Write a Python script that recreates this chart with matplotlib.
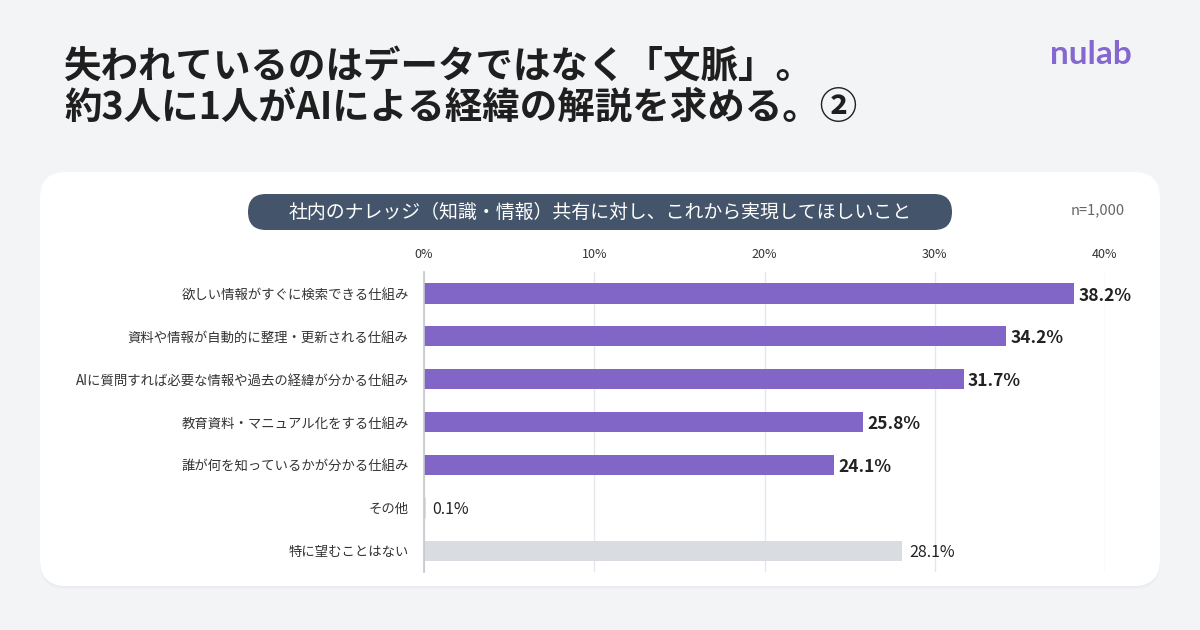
import matplotlib
matplotlib.use("Agg")
import matplotlib.pyplot as plt
from matplotlib.patches import FancyBboxPatch

plt.rcParams['font.family'] = ['Noto Sans CJK JP', 'DejaVu Sans']

title_lines = ["失われているのはデータではなく「文脈」。", "約3人に1人がAIによる経緯の解説を求める。②"]
chart_title = "社内のナレッジ（知識・情報）共有に対し、これから実現してほしいこと"
sample_note = "n=1,000"
categories = [
    "欲しい情報がすぐに検索できる仕組み",
    "資料や情報が自動的に整理・更新される仕組み",
    "AIに質問すれば必要な情報や過去の経緯が分かる仕組み",
    "教育資料・マニュアル化をする仕組み",
    "誰が何を知っているかが分かる仕組み",
    "その他",
    "特に望むことはない",
]
values = [38.2, 34.2, 31.7, 25.8, 24.1, 0.1, 28.1]
highlight = [True, True, True, True, True, False, False]
xticks = [0, 10, 20, 30, 40]
xtick_labels = ["0%", "10%", "20%", "30%", "40%"]

W, H = 1200, 630
fig = plt.figure(figsize=(W / 100, H / 100), dpi=100)
fig.patch.set_facecolor('#f3f4f6')

bg = fig.add_axes([0, 0, 1, 1])
bg.set_xlim(0, W)
bg.set_ylim(H, 0)
bg.axis('off')

# card shadow + card
for off, col in [(3, '#eef0f2'), (1.5, '#e9ebee')]:
    bg.add_patch(FancyBboxPatch((40, 172 + off), 1120, 414, boxstyle="round,pad=0,rounding_size=26",
                                fc=col, ec='none', zorder=0))
bg.add_patch(FancyBboxPatch((40, 172), 1120, 414, boxstyle="round,pad=0,rounding_size=26",
                            fc='white', ec='none', zorder=1))
# pill
bg.add_patch(FancyBboxPatch((248, 194), 704, 36, boxstyle="round,pad=0,rounding_size=18",
                            fc='#44546a', ec='none', zorder=2))
bg.text(600, 212, chart_title, color='white', fontsize=13.6, ha='center', va='center', zorder=3)
bg.text(1125, 210, sample_note, color='#666666', fontsize=10.5, ha='right', va='center', zorder=3)

# titles
bg.text(64, 66, title_lines[0], fontsize=27, fontweight='bold', color='#1f1f1f', ha='left', va='center')
bg.text(64, 107, title_lines[1], fontsize=27, fontweight='bold', color='#1f1f1f', ha='left', va='center')

# logo
bg.text(1091, 54, "nulab", fontsize=24, fontweight='bold', color='#8468cf', ha='center', va='center',
        family=['Lato', 'DejaVu Sans'])

# chart axes
x0, x1 = 424, 1105
y_top, y_bot = 272, 572
ax = fig.add_axes([x0 / W, 1 - y_bot / H, (x1 - x0) / W, (y_bot - y_top) / H])
ax.patch.set_alpha(0)
n = len(categories)
pos = list(range(n))
colors = ['#8166c8' if h else '#d9dde2' for h in highlight]
ax.barh(pos, values, height=0.47, color=colors, zorder=3)
ax.set_xlim(0, 40)
ax.set_ylim(n - 0.5, -0.5)

ax.set_xticks(xticks)
ax.set_xticklabels(xtick_labels, fontsize=9, color='#333333')
ax.xaxis.tick_top()
ax.tick_params(axis='x', length=0, pad=8)
ax.set_yticks(pos)
ax.set_yticklabels(categories, fontsize=9.6, color='#333333')
ax.tick_params(axis='y', length=0, pad=11)
ax.grid(axis='x', color='#e5e7eb', linewidth=1, zorder=0)
for s in ['top', 'right', 'bottom']:
    ax.spines[s].set_visible(False)
ax.spines['left'].set_color('#c4c7cc')
ax.spines['left'].set_linewidth(1.2)
ax.spines['left'].set_zorder(4)

for p, v, h in zip(pos, values, highlight):
    ax.annotate(f"{v:.1f}%", (v, p), xytext=(3 if h else 5, -1.5), textcoords='offset points',
                ha='left', va='center', fontsize=12.5 if h else 11.5,
                fontweight='bold' if h else 'normal', color='#222222', zorder=5)

fig.savefig('out.png', dpi=100, facecolor=fig.get_facecolor())
